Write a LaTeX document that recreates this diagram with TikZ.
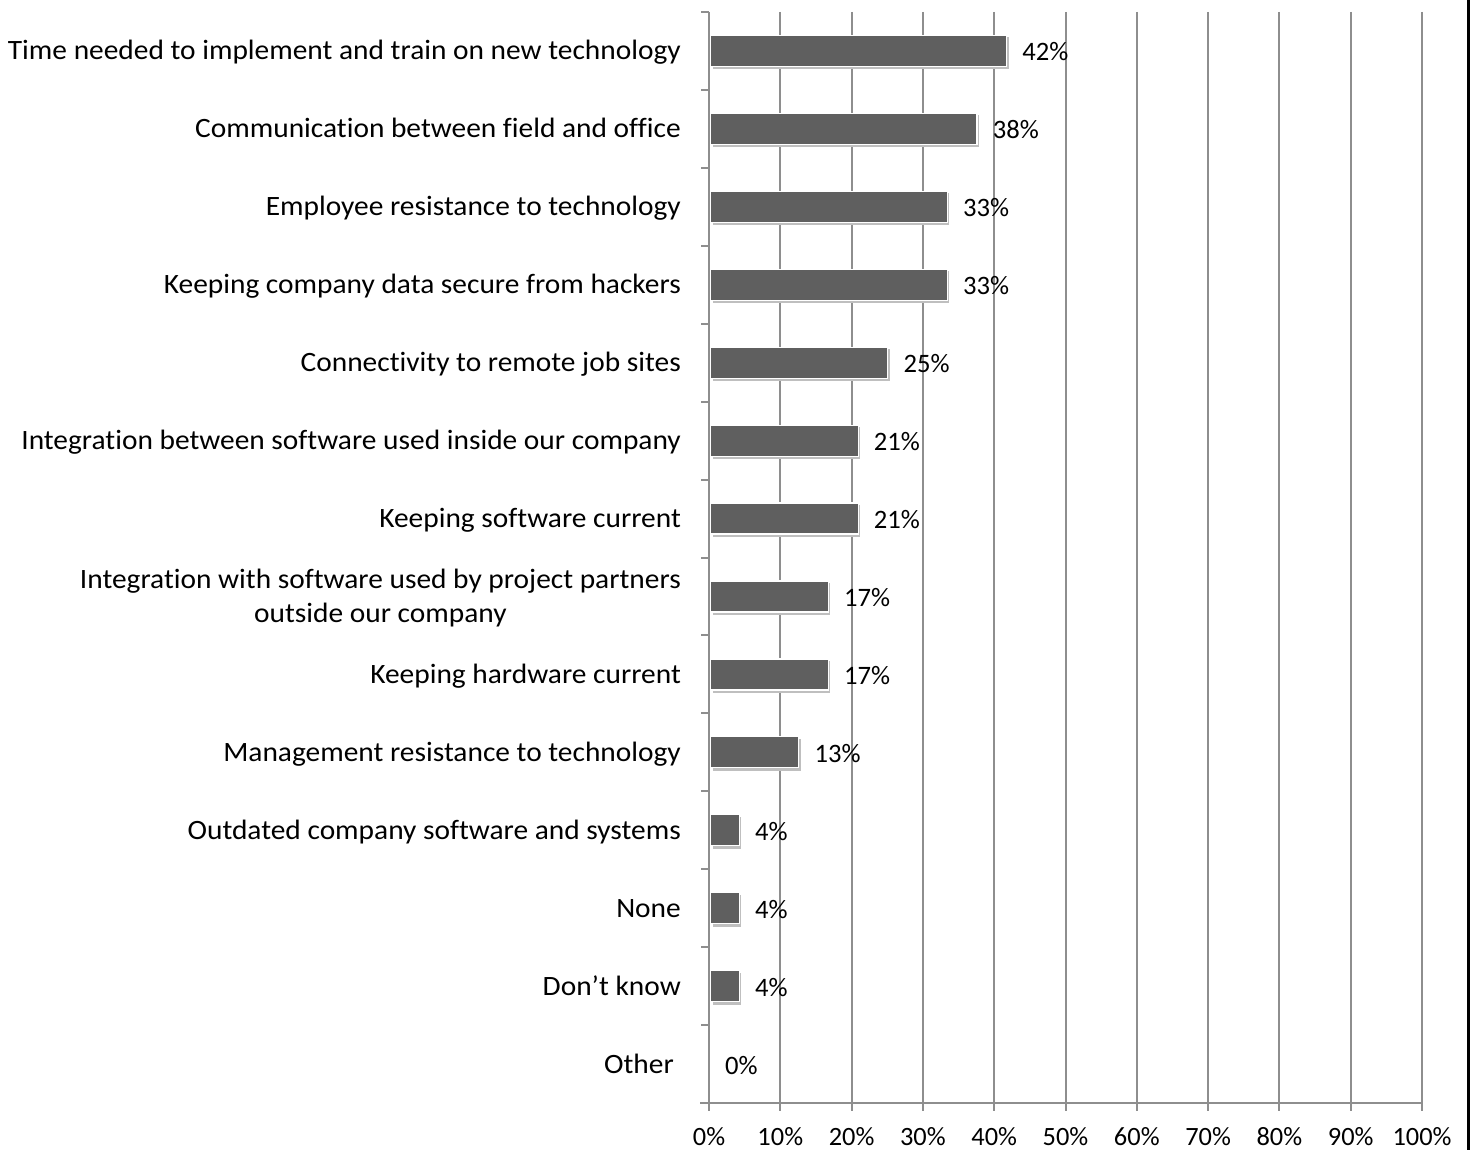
\documentclass[tikz,border=0pt]{standalone}
\usepackage{fontspec}
\setmainfont{Carlito}[Ligatures=NoCommon]
\usetikzlibrary{calc}
\definecolor{gridc}{HTML}{8E8E8E}
\definecolor{barc}{HTML}{5F5F5F}
\newcommand{\catfmt}[1]{\scalebox{1.05}[1]{\begin{tabular}{@{}c@{}}#1\end{tabular}}}
\tikzset{
  gridline/.style={draw=gridc, line width=2pt},
  barbox/.style={fill=barc, draw=white, line width=1.2pt, inner sep=0pt, minimum height=31pt, anchor=west},
  barshadow/.style={fill=black!25},
  catlabel/.style={anchor=east, font=\fontsize{28}{35}\selectfont, inner sep=0pt},
  vallabel/.style={anchor=west, font=\fontsize{26.6}{30}\selectfont, inner sep=0pt},
  ticklabel/.style={anchor=center, font=\fontsize{26.4}{30}\selectfont, inner sep=0pt}
}
\begin{document}
\begin{tikzpicture}[x=1pt, y=-1pt]
\useasboundingbox[fill=white] (0,0) rectangle (1470,1150);
% right border band
\fill[black] (1467,0) rectangle (1470,1150);
% gridlines and bottom ticks
\foreach \k/\t in {0/0\%,1/10\%,2/20\%,3/30\%,4/40\%,5/50\%,6/60\%,7/70\%,8/80\%,9/90\%,10/100\%}{
  \pgfmathsetmacro{\gx}{709+71.3*\k}
  \draw[gridline] (\gx,12) -- (\gx,1111);
  \node[ticklabel] (t\k) at (\gx,1137) {\t};
}
% horizontal axis
\draw[gridline] (700,1103) -- (1422,1103);
% left ticks
\foreach \k in {0,...,13}{
  \pgfmathsetmacro{\ty}{12+77.93*\k}
  \draw[gridline] (701,\ty) -- (709,\ty);
}
% bars
\foreach \i/\v/\p/\lab in {
  0/10/42/{Time needed to implement and train on new technology},
  1/9/38/{Communication between field and office},
  2/8/33/{Employee resistance to technology},
  3/8/33/{Keeping company data secure from hackers},
  4/6/25/{Connectivity to remote job sites},
  5/5/21/{Integration between software used inside our company},
  6/5/21/{Keeping software current},
  7/4/17/{Integration with software used by project partners\\[-0.5pt]outside our company},
  8/4/17/{Keeping hardware current},
  9/3/13/{Management resistance to technology},
  10/1/4/{Outdated company software and systems},
  11/1/4/{None},
  12/1/4/{Don’t know}}{
  \pgfmathsetmacro{\cy}{12+77.93*(\i+0.5)}
  \pgfmathsetmacro{\bw}{\v/24*713-1}
  \fill[barshadow] (712.5,\cy-13.5) rectangle (710+\bw+2.5,\cy+18.5);
  \node[barbox, minimum width=\bw pt] (b\i) at (710,\cy) {};
  \node[vallabel] (v\i) at ($(b\i.east)+(15,1)$) {\p\%};
  \node[catlabel] (c\i) at (681,\cy+2) {\catfmt{\lab}};
}
% Other
\pgfmathsetmacro{\cy}{12+77.93*13.5}
\coordinate (b13) at (709,\cy);
\node[vallabel] (v13) at ($(b13)+(16,1)$) {0\%};
\node[catlabel] (c13) at (674,\cy+2) {\catfmt{Other}};
\end{tikzpicture}
\end{document}
